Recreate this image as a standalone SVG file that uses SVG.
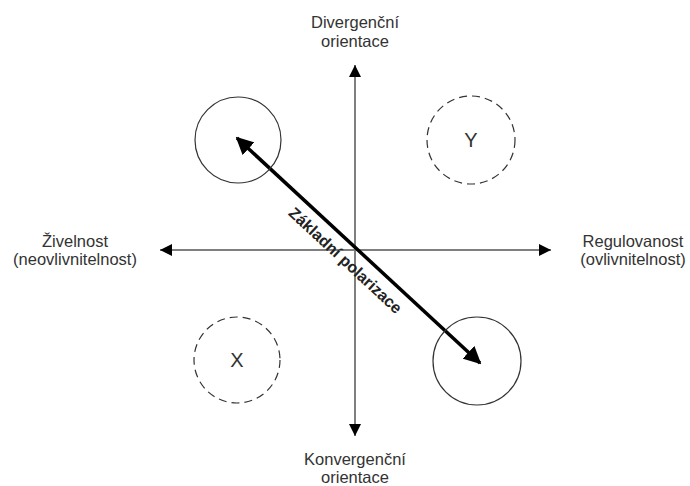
<svg xmlns="http://www.w3.org/2000/svg" width="690" height="486" viewBox="0 0 690 486">
<style>
text{font-family:"Liberation Sans",Arial,sans-serif;fill:#333;}
.lbl{font-size:16.5px;text-anchor:middle;}
.big{font-size:20px;text-anchor:middle;}
.axis{stroke:#7f7f7f;stroke-width:2;fill:none;}
.circ{stroke:#333;stroke-width:1.2;fill:none;}
.dash{stroke:#333;stroke-width:1.2;fill:none;stroke-dasharray:8 5;}
.main{stroke:#000;stroke-width:3.5;fill:none;}
</style>
<defs>
<marker id="ah" viewBox="0 0 10 10" refX="10" refY="5" markerWidth="6" markerHeight="6" orient="auto" markerUnits="strokeWidth">
<path d="M0,0 L10,5 L0,10 Z" fill="#000"/>
</marker>
<marker id="bh" viewBox="0 0 10 10" refX="9" refY="5" markerWidth="5" markerHeight="5" orient="auto-start-reverse" markerUnits="strokeWidth">
<path d="M0,0 L10,5 L0,10 Z" fill="#000"/>
</marker>
</defs>
<g id="connectors">
<line class="axis" x1="355" y1="250" x2="355" y2="65" marker-end="url(#ah)"/>
<line class="axis" x1="355" y1="250" x2="355" y2="436" marker-end="url(#ah)"/>
<line class="axis" x1="355" y1="250" x2="160" y2="250" marker-end="url(#ah)"/>
<line class="axis" x1="355" y1="250" x2="551" y2="250" marker-end="url(#ah)"/>
<line class="main" x1="237" y1="138" x2="480" y2="363" marker-start="url(#bh)" marker-end="url(#bh)"/>
<text transform="translate(356,249) rotate(42.8)" x="0" y="21" font-size="16" font-weight="bold" text-anchor="middle" style="fill:#222">Základní polarizace</text>
</g>
<g id="top-label">
<text class="lbl" x="355" y="28">Divergenční</text>
<text class="lbl" x="355" y="47">orientace</text>
</g>
<g id="bottom-label">
<text class="lbl" x="355" y="465">Konvergenční</text>
<text class="lbl" x="355" y="483">orientace</text>
</g>
<g id="left-label">
<text class="lbl" x="75" y="247">Živelnost</text>
<text class="lbl" x="75" y="265">(neovlivnitelnost)</text>
</g>
<g id="right-label">
<text class="lbl" x="633" y="247">Regulovanost</text>
<text class="lbl" x="633" y="265">(ovlivnitelnost)</text>
</g>
<g id="circle-a">
<circle class="circ" cx="238" cy="140" r="43"/>
</g>
<g id="circle-b">
<circle class="circ" cx="477" cy="361" r="44"/>
</g>
<g id="circle-x">
<circle class="dash" cx="237" cy="360" r="43"/>
<text class="big" x="237" y="367">X</text>
</g>
<g id="circle-y">
<circle class="dash" cx="471" cy="140" r="44"/>
<text class="big" x="471" y="147">Y</text>
</g>
</svg>
